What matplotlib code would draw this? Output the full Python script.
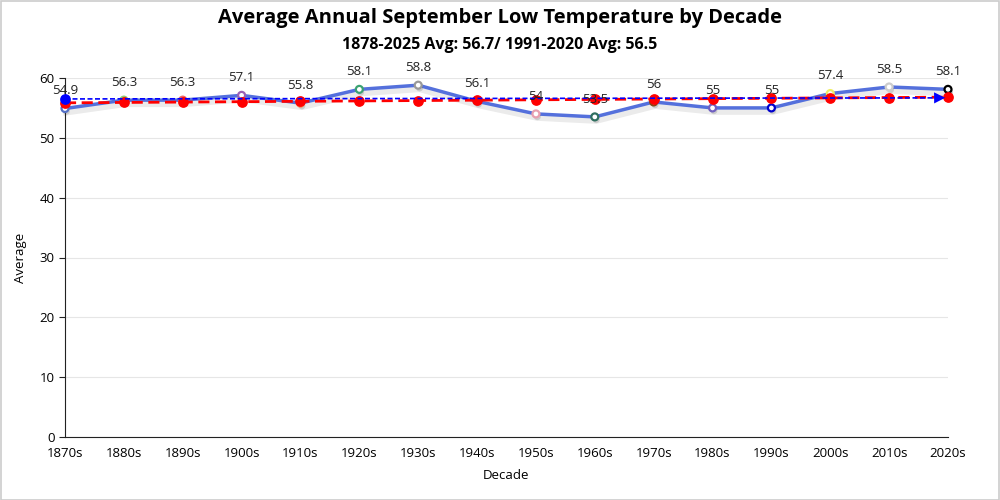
import matplotlib
matplotlib.use("Agg")
import matplotlib.pyplot as plt
import matplotlib.patheffects as pe
from matplotlib.patches import Rectangle

plt.rcParams['font.family'] = ['Open Sans', 'DejaVu Sans']

decades = ['1870s', '1880s', '1890s', '1900s', '1910s', '1920s', '1930s', '1940s',
           '1950s', '1960s', '1970s', '1980s', '1990s', '2000s', '2010s', '2020s']
averages = [54.9, 56.3, 56.3, 57.1, 55.8, 58.1, 58.8, 56.1,
            54.0, 53.5, 56.0, 55.0, 55.0, 57.4, 58.5, 58.1]
marker_colors = ['#5470c6', '#91cc75', '#ee6666', '#9a60b4', '#fc8452', '#3ba272', '#999999', '#aaaaaa',
                 '#e8a0b0', '#2f6f5f', '#8b4513', '#7060c0', '#0000cc', '#eeee66', '#cccccc', '#000000']
trend_start = 55.85
trend_end = 56.8
normal_start = 56.5
normal_end = 56.7
title = 'Average Annual September Low Temperature by Decade'
subtitle = '1878-2025 Avg: 56.7/ 1991-2020 Avg: 56.5'

n = len(decades)
xs = list(range(n))
trend = [trend_start + (trend_end - trend_start) * i / (n - 1) for i in xs]

fig = plt.figure(figsize=(10, 5), dpi=100)
ax = fig.add_axes([0.065, 0.126, 0.883, 0.718])
fig.patches.append(Rectangle((0.001, 0.001), 0.998, 0.997, transform=fig.transFigure,
                             fill=False, edgecolor='#cccccc', linewidth=1.2))

ax.set_xlim(0, n - 1)
ax.set_ylim(0, 60)
ax.set_yticks(range(0, 61, 10))
ax.grid(axis='y', color='#e6e6e6', linewidth=0.8)
ax.set_axisbelow(True)
for s in ['top', 'right']:
    ax.spines[s].set_visible(False)
ax.spines['left'].set_color('#222222')
ax.spines['bottom'].set_color('#222222')
ax.set_xticks(xs)
ax.set_xticklabels(decades)
ax.tick_params(axis='x', length=0, labelsize=9.5, pad=7)
ax.tick_params(axis='y', length=4, labelsize=9.5, color='#222222')

# main series
ax.plot(xs, averages, color='#5470dc', linewidth=2.5, zorder=3, clip_on=False,
        path_effects=[pe.SimpleLineShadow(offset=(1, -2.5), alpha=0.08, shadow_color='black', linewidth=5),
                      pe.Normal()])

for x, y, c in zip(xs, averages, marker_colors):
    ax.plot(x, y, marker='o', markersize=5, markerfacecolor='white', markeredgecolor=c,
            markeredgewidth=1.6, zorder=4, clip_on=False,
            path_effects=[pe.SimplePatchShadow(offset=(1, -2), alpha=0.2), pe.Normal()])
    ax.annotate(f'{y:g}', (x, y), xytext=(0, 8), textcoords='offset points',
                ha='center', va='bottom', fontsize=9.5, color='#222222', zorder=9)

# trend line
ax.plot(xs, trend, color='red', linestyle=(0, (4, 2)), linewidth=2, zorder=5, clip_on=False)
ax.scatter(xs, trend, s=45, color='red', zorder=6, clip_on=False)

# 1991-2020 normal with arrow
ax.plot([0, n - 1.15], [normal_start, normal_end - 0.02], color='blue', linestyle=(0, (3, 1.5)),
        linewidth=1.2, zorder=7, clip_on=False)
ax.annotate('', xy=(n - 1, normal_end), xytext=(n - 1.3, normal_end - 0.03),
            arrowprops=dict(arrowstyle='-|>', color='blue', mutation_scale=20, lw=0), zorder=8,
            annotation_clip=False)
ax.scatter([0], [normal_start], s=45, color='blue', zorder=8, clip_on=False)

ax.set_xlabel('Decade', fontsize=9.5, labelpad=7)
ax.set_ylabel('Average', fontsize=9.5, labelpad=9)
fig.text(0.5, 0.965, title, ha='center', va='center', fontsize=14.5, fontweight='bold')
fig.text(0.5, 0.91, subtitle, ha='center', va='center', fontsize=11.5, fontweight='bold')

fig.savefig('out.png', dpi=100)
